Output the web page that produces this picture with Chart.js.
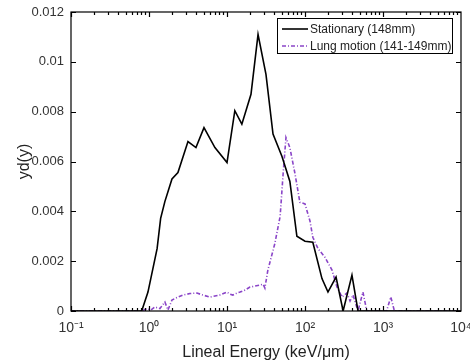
<!DOCTYPE html>
<html>
<head>
<meta charset="utf-8">
<script src="https://cdn.jsdelivr.net/npm/chart.js@4"></script>
<style>
  body { margin: 0; background: #fff; }
  canvas { display: block; }
</style>
</head>
<body>
<canvas id="chart" width="470" height="362"></canvas>
<script>
// Stationary (148mm)
const stationaryEnergy = [0.1, 0.806, 0.97, 1.27, 1.41, 1.6, 1.97, 2.35, 3.16, 4.0, 5.07, 7.0, 10.0, 12.6, 15.5, 20.3, 25, 31.6, 38.9, 50.7, 64, 78.7, 100, 126, 165, 197, 250, 308, 400, 478, 10000];
const stationaryYd = [0, 0, 0.00076, 0.0025, 0.00372, 0.0044, 0.0053, 0.00556, 0.0068, 0.00656, 0.00736, 0.00656, 0.00596, 0.00804, 0.0075, 0.0087, 0.0111, 0.0095, 0.0071, 0.0062, 0.0052, 0.003, 0.0028, 0.00276, 0.0013, 0.00076, 0.00136, 0, 0.00144, 0, 0];

// Lung motion (141-149mm)
const lungEnergy = [0.1, 0.81, 0.94, 1.06, 1.19, 1.38, 1.6, 1.75, 1.97, 2.35, 2.73, 3.35, 4.12, 4.9, 6.05, 7.0, 8.1, 10.0, 10.9, 11.9, 13.4, 14.7, 17.0, 19.7, 22.9, 26.5, 29, 30.6, 33.4, 41, 48, 52.4, 57, 64, 74.5, 86, 100, 116, 126, 147, 180, 222, 257, 298, 344, 378, 413, 478, 553, 620, 1110, 1260, 1400, 10000];
const lungYd = [0, 0, 0.0001, 0.00004, 0.00016, 0.0001, 0.00036, 0.00004, 0.00044, 0.00056, 0.00064, 0.0007, 0.00072, 0.00064, 0.00056, 0.0006, 0.00064, 0.00076, 0.00068, 0.00064, 0.00072, 0.00076, 0.00084, 0.00096, 0.001, 0.00104, 0.00108, 0.00092, 0.00164, 0.0027, 0.0038, 0.0055, 0.00696, 0.00656, 0.0055, 0.00436, 0.0043, 0.0036, 0.00296, 0.0025, 0.00216, 0.00164, 0.00096, 0.00056, 0.00072, 0.0004, 0.00064, 0, 0.00076, 0, 0, 0.00056, 0, 0];

const seriesLabels = ['Stationary (148mm)', 'Lung motion (141-149mm)'];
const xTicks = [0.1, 1, 10, 100, 1000, 10000];
const xTickLabels = ['10\u207B\u00B9', '10\u2070', '10\u00B9', '10\u00B2', '10\u00B3', '10\u2074'];
const yTicks = [0, 0.002, 0.004, 0.006, 0.008, 0.01, 0.012];

const toPoints = (xs, ys) => xs.map((x, i) => ({ x: x, y: ys[i] }));

const FONT = 'Liberation Sans, Arial, Helvetica, sans-serif';
const PURPLE = '#8a45c8';

// MATLAB-like frame, inward ticks and legend box
const framePlugin = {
  id: 'frame',
  afterDatasetsDraw(chart) {
    const ctx = chart.ctx;
    const a = chart.chartArea;
    const xs = chart.scales.x;
    const ys = chart.scales.y;
    ctx.save();
    ctx.strokeStyle = '#000';
    ctx.lineWidth = 1.2;
    ctx.beginPath();
    // y ticks
    yTicks.forEach(v => {
      const py = Math.round(ys.getPixelForValue(v)) + 0.5;
      ctx.moveTo(a.left, py); ctx.lineTo(a.left + 5, py);
      ctx.moveTo(a.right, py); ctx.lineTo(a.right - 5, py);
    });
    // x ticks, major and minor
    for (let e = -1; e < 4; e++) {
      const d = Math.pow(10, e);
      for (let m = 1; m < 10; m++) {
        const px = Math.round(xs.getPixelForValue(d * m)) + 0.5;
        const len = m === 1 ? 5 : 3;
        ctx.moveTo(px, a.bottom); ctx.lineTo(px, a.bottom - len);
        ctx.moveTo(px, a.top); ctx.lineTo(px, a.top + len);
      }
    }
    ctx.stroke();
    ctx.lineWidth = 1.2;
    ctx.strokeRect(a.left, a.top, a.right - a.left, a.bottom - a.top);

    // legend
    const lx = 277, ly = 18, lw = 175, lh = 35;
    ctx.fillStyle = '#fff';
    ctx.fillRect(lx, ly, lw, lh);
    ctx.lineWidth = 1;
    ctx.strokeStyle = '#000';
    ctx.strokeRect(lx + 0.5, ly + 0.5, lw, lh);
    ctx.font = '12px ' + FONT;
    ctx.textBaseline = 'middle';
    chart.data.datasets.forEach((ds, i) => {
      const ry = ly + 11 + i * 17;
      ctx.beginPath();
      ctx.strokeStyle = ds.borderColor;
      ctx.lineWidth = ds.borderWidth;
      ctx.setLineDash(ds.borderDash || []);
      ctx.moveTo(lx + 5, ry); ctx.lineTo(lx + 31, ry);
      ctx.stroke();
      ctx.setLineDash([]);
      ctx.fillStyle = '#222';
      ctx.fillText(ds.label, lx + 33, ry + 1);
    });
    ctx.restore();
  }
};

new Chart(document.getElementById('chart'), {
  type: 'line',
  data: {
    datasets: [
      {
        label: seriesLabels[0],
        data: toPoints(stationaryEnergy, stationaryYd),
        borderColor: '#000',
        borderWidth: 1.6,
        pointRadius: 0,
        tension: 0,
        fill: false,
      },
      {
        label: seriesLabels[1],
        data: toPoints(lungEnergy, lungYd),
        borderColor: PURPLE,
        borderWidth: 1.6,
        borderDash: [4, 2, 1, 2],
        pointRadius: 0,
        tension: 0,
        fill: false,
      },
    ],
  },
  options: {
    responsive: false,
    animation: false,
    layout: { padding: { top: 12, right: 9, left: 0, bottom: 0 } },
    plugins: { legend: { display: false }, tooltip: { enabled: false } },
    scales: {
      x: {
        type: 'logarithmic',
        min: 0.1,
        max: 10000,
        afterBuildTicks: s => { s.ticks = xTicks.map(v => ({ value: v })); },
        afterFit: s => { s.height = 51; s.paddingLeft = 0; s.paddingRight = 0; },
        grid: { drawOnChartArea: false, drawTicks: false },
        border: { display: false },
        ticks: {
          padding: 9,
          color: '#333',
          font: { family: FONT, size: 14 },
          autoSkip: false,
          maxRotation: 0,
          callback: (v) => {
            const i = xTicks.findIndex(t => Math.abs(Math.log10(t) - Math.log10(v)) < 1e-6);
            return i >= 0 ? xTickLabels[i] : '';
          },
        },
        title: {
          display: true,
          text: 'Lineal Energy (keV/\u03BCm)',
          color: '#222',
          font: { family: FONT, size: 16 },
          padding: { top: 0, bottom: 0 },
        },
      },
      y: {
        min: 0,
        max: 0.012,
        afterBuildTicks: s => { s.ticks = yTicks.map(v => ({ value: v })); },
        afterFit: s => { s.width = 71; s.paddingTop = 0; s.paddingBottom = 0; },
        grid: { drawOnChartArea: false, drawTicks: false },
        border: { display: false },
        ticks: {
          padding: 7,
          color: '#333',
          font: { family: FONT, size: 13 },
          callback: v => String(Number(v.toFixed(3))),
        },
        title: {
          display: true,
          text: 'yd(y)',
          color: '#222',
          font: { family: FONT, size: 16 },
          padding: { top: 15, bottom: 2 },
        },
      },
    },
  },
  plugins: [framePlugin],
});
</script>
</body>
</html>
